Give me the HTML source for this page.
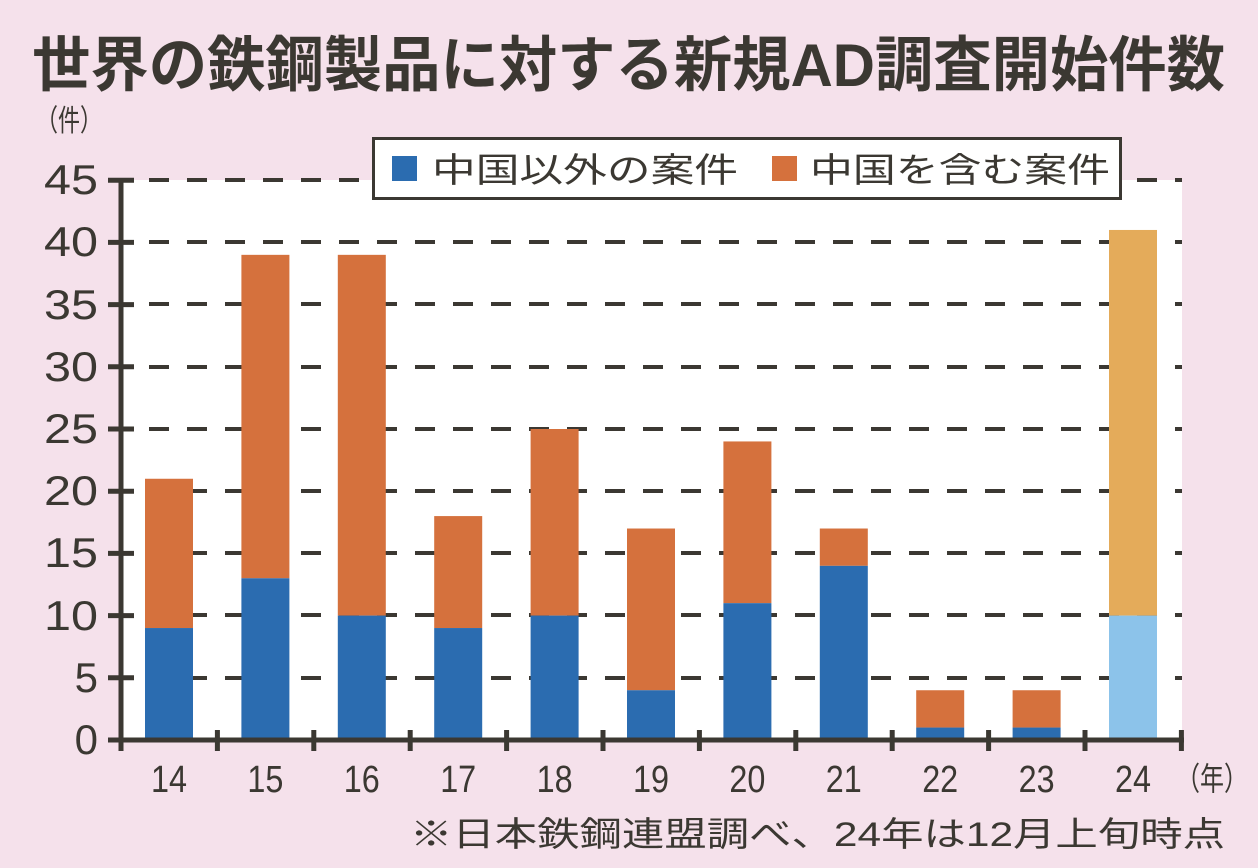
<!DOCTYPE html>
<html><head><meta charset="utf-8"><style>
html,body{margin:0;padding:0;background:#f5e1eb;}
svg{display:block;}
text{fill:#3b3832;font-family:"Liberation Sans","Noto Sans CJK JP",sans-serif;}
</style></head><body>
<svg width="1258" height="868" viewBox="0 0 1258 868" xmlns="http://www.w3.org/2000/svg">
<rect width="1258" height="868" fill="#f5e1eb"/>
<text x="32" y="86" font-size="60" font-weight="bold" textLength="1193" lengthAdjust="spacingAndGlyphs">世界の鉄鋼製品に対する新規AD調査開始件数</text>
<text x="36" y="131" font-size="30" textLength="66" lengthAdjust="spacingAndGlyphs">（件）</text>
<rect x="122" y="180" width="1060" height="560" fill="#fff"/>
<g stroke="#3b3832" stroke-width="4" stroke-dasharray="20 18">
<line x1="149" y1="180" x2="1182" y2="180"/>
<line x1="149" y1="242" x2="1182" y2="242"/>
<line x1="149" y1="304" x2="1182" y2="304"/>
<line x1="149" y1="367" x2="1182" y2="367"/>
<line x1="149" y1="429" x2="1182" y2="429"/>
<line x1="149" y1="491" x2="1182" y2="491"/>
<line x1="149" y1="553" x2="1182" y2="553"/>
<line x1="149" y1="615" x2="1182" y2="615"/>
<line x1="149" y1="678" x2="1182" y2="678"/>
</g>
<g fill="#d5713d">
<rect x="145" y="478.76" width="48" height="149.28"/>
<rect x="241.4" y="254.84" width="48" height="323.44"/>
<rect x="337.8" y="254.84" width="48" height="360.76"/>
<rect x="434.2" y="516.08" width="48" height="111.96"/>
<rect x="530.6" y="429" width="48" height="186.6"/>
<rect x="627" y="528.52" width="48" height="161.72"/>
<rect x="723.4" y="441.44" width="48" height="161.72"/>
<rect x="819.8" y="528.52" width="48" height="37.32"/>
<rect x="916.2" y="690.24" width="48" height="37.32"/>
<rect x="1012.6" y="690.24" width="48" height="37.32"/>
</g>
<rect x="1109" y="229.96" width="48" height="385.64" fill="#e4ab5a"/>
<g fill="#2b6cb0">
<rect x="145" y="628.04" width="48" height="111.96"/>
<rect x="241.4" y="578.28" width="48" height="161.72"/>
<rect x="337.8" y="615.6" width="48" height="124.4"/>
<rect x="434.2" y="628.04" width="48" height="111.96"/>
<rect x="530.6" y="615.6" width="48" height="124.4"/>
<rect x="627" y="690.24" width="48" height="49.76"/>
<rect x="723.4" y="603.16" width="48" height="136.84"/>
<rect x="819.8" y="565.84" width="48" height="174.16"/>
<rect x="916.2" y="727.56" width="48" height="12.44"/>
<rect x="1012.6" y="727.56" width="48" height="12.44"/>
</g>
<rect x="1109" y="615.6" width="48" height="124.4" fill="#8cc3ea"/>
<g font-size="38" text-anchor="middle">
<text x="169" y="792" textLength="36" lengthAdjust="spacingAndGlyphs">14</text>
<text x="265.4" y="792" textLength="36" lengthAdjust="spacingAndGlyphs">15</text>
<text x="361.8" y="792" textLength="36" lengthAdjust="spacingAndGlyphs">16</text>
<text x="458.2" y="792" textLength="36" lengthAdjust="spacingAndGlyphs">17</text>
<text x="554.6" y="792" textLength="36" lengthAdjust="spacingAndGlyphs">18</text>
<text x="651" y="792" textLength="36" lengthAdjust="spacingAndGlyphs">19</text>
<text x="747.4" y="792" textLength="36" lengthAdjust="spacingAndGlyphs">20</text>
<text x="843.8" y="792" textLength="36" lengthAdjust="spacingAndGlyphs">21</text>
<text x="940.2" y="792" textLength="36" lengthAdjust="spacingAndGlyphs">22</text>
<text x="1036.6" y="792" textLength="36" lengthAdjust="spacingAndGlyphs">23</text>
<text x="1133" y="792" textLength="36" lengthAdjust="spacingAndGlyphs">24</text>
</g>
<g font-size="42" text-anchor="end">
<text x="98" y="754">0</text>
<text x="98" y="692">5</text>
<text x="98" y="630" textLength="54" lengthAdjust="spacingAndGlyphs">10</text>
<text x="98" y="567" textLength="54" lengthAdjust="spacingAndGlyphs">15</text>
<text x="98" y="505" textLength="54" lengthAdjust="spacingAndGlyphs">20</text>
<text x="98" y="443" textLength="54" lengthAdjust="spacingAndGlyphs">25</text>
<text x="98" y="381" textLength="54" lengthAdjust="spacingAndGlyphs">30</text>
<text x="98" y="319" textLength="54" lengthAdjust="spacingAndGlyphs">35</text>
<text x="98" y="256" textLength="54" lengthAdjust="spacingAndGlyphs">40</text>
<text x="98" y="194" textLength="54" lengthAdjust="spacingAndGlyphs">45</text>
</g>
<g stroke="#3b3832" stroke-width="5">
<line x1="108" y1="740" x2="134" y2="740"/>
<line x1="108" y1="677.8" x2="134" y2="677.8"/>
<line x1="108" y1="615.6" x2="134" y2="615.6"/>
<line x1="108" y1="553.4" x2="134" y2="553.4"/>
<line x1="108" y1="491.2" x2="134" y2="491.2"/>
<line x1="108" y1="429" x2="134" y2="429"/>
<line x1="108" y1="366.8" x2="134" y2="366.8"/>
<line x1="108" y1="304.6" x2="134" y2="304.6"/>
<line x1="108" y1="242.4" x2="134" y2="242.4"/>
<line x1="108" y1="180.2" x2="134" y2="180.2"/>
<line x1="121" y1="730" x2="121" y2="751"/>
<line x1="217.4" y1="730" x2="217.4" y2="751"/>
<line x1="313.8" y1="730" x2="313.8" y2="751"/>
<line x1="410.2" y1="730" x2="410.2" y2="751"/>
<line x1="506.6" y1="730" x2="506.6" y2="751"/>
<line x1="603" y1="730" x2="603" y2="751"/>
<line x1="699.4" y1="730" x2="699.4" y2="751"/>
<line x1="795.8" y1="730" x2="795.8" y2="751"/>
<line x1="892.2" y1="730" x2="892.2" y2="751"/>
<line x1="988.6" y1="730" x2="988.6" y2="751"/>
<line x1="1085" y1="730" x2="1085" y2="751"/>
<line x1="1181.4" y1="730" x2="1181.4" y2="751"/>
<line x1="121" y1="178" x2="121" y2="742"/>
<line x1="118" y1="740" x2="1184" y2="740"/>
</g>
<rect x="373.5" y="138.5" width="747" height="60" fill="#fff" stroke="#3b3832" stroke-width="3"/>
<rect x="392" y="156" width="25" height="25" fill="#2b6cb0"/>
<text x="432" y="182" font-size="34" textLength="306" lengthAdjust="spacingAndGlyphs">中国以外の案件</text>
<rect x="772" y="156" width="25" height="25" fill="#d5713d"/>
<text x="810" y="182" font-size="34" textLength="300" lengthAdjust="spacingAndGlyphs">中国を含む案件</text>
<text x="1176" y="790" font-size="32" textLength="72" lengthAdjust="spacingAndGlyphs">（年）</text>
<text x="410" y="846" font-size="34" textLength="815" lengthAdjust="spacingAndGlyphs">※日本鉄鋼連盟調べ、24年は12月上旬時点</text>
</svg>
</body></html>
